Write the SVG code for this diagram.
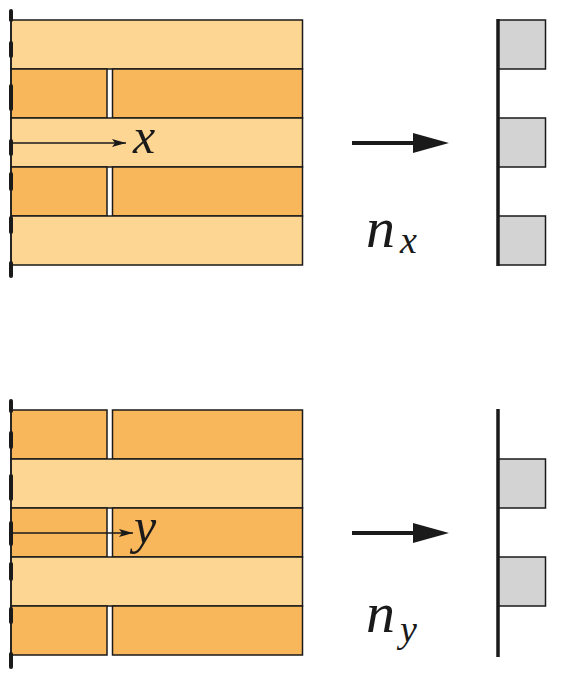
<svg xmlns="http://www.w3.org/2000/svg" width="563" height="675" viewBox="0 0 563 675">
<style>
.light{fill:#FED693;stroke:#1a1a1a;stroke-width:1.5}
.dark{fill:#F9B75C;stroke:#1a1a1a;stroke-width:1.5}
.cell{fill:#D3D3D3;stroke:#1a1a1a;stroke-width:1.5}
.wall{stroke:#1a1a1a;stroke-width:1.5;fill:none}
.wd{stroke:#1a1a1a;stroke-width:4;stroke-linecap:round}
.bar{stroke:#1a1a1a;stroke-width:3.5}
.thin{stroke:#1a1a1a;stroke-width:1.5;fill:none}
.big{stroke:#1a1a1a;stroke-width:4;fill:none}
.head{fill:#1a1a1a}
.m{font-family:"Liberation Serif",serif;font-style:italic;fill:#1a1a1a}
</style>
<defs>
<marker id="ah" viewBox="0 0 14 10" refX="14" refY="5" markerWidth="14" markerHeight="10" markerUnits="userSpaceOnUse" orient="auto">
<path d="M0,1 L14,5 L0,9 L3,5 Z" fill="#1a1a1a"/>
</marker>
</defs>

<g id="panel-x">
<rect class="light" x="11" y="20" width="291.5" height="49"/>
<rect class="dark" x="11" y="69" width="96" height="49"/>
<rect class="dark" x="112.5" y="69" width="190" height="49"/>
<rect class="light" x="11" y="118" width="291.5" height="49"/>
<rect class="dark" x="11" y="167" width="96" height="49"/>
<rect class="dark" x="112.5" y="167" width="190" height="49"/>
<rect class="light" x="11" y="216" width="291.5" height="49"/>
<line class="wall" x1="11" y1="10" x2="11" y2="277"/>
<g class="wd">
<line x1="11" y1="11" x2="11" y2="20"/><line x1="11" y1="43" x2="11" y2="56"/><line x1="11" y1="86" x2="11" y2="109"/>
<line x1="11" y1="141" x2="11" y2="154"/><line x1="11" y1="174" x2="11" y2="189"/><line x1="11" y1="218" x2="11" y2="232"/><line x1="11" y1="263" x2="11" y2="276"/>
</g>
</g>

<g id="panel-y">
<rect class="dark" x="11" y="410" width="96" height="49"/>
<rect class="dark" x="112.5" y="410" width="190" height="49"/>
<rect class="light" x="11" y="459" width="291.5" height="49"/>
<rect class="dark" x="11" y="508" width="96" height="49"/>
<rect class="dark" x="112.5" y="508" width="190" height="49"/>
<rect class="light" x="11" y="557" width="291.5" height="49"/>
<rect class="dark" x="11" y="606" width="96" height="49"/>
<rect class="dark" x="112.5" y="606" width="190" height="49"/>
<line class="wall" x1="11" y1="400" x2="11" y2="668"/>
<g class="wd">
<line x1="11" y1="401" x2="11" y2="411"/><line x1="11" y1="433" x2="11" y2="447"/><line x1="11" y1="476" x2="11" y2="499"/>
<line x1="11" y1="523" x2="11" y2="544"/><line x1="11" y1="564" x2="11" y2="579"/><line x1="11" y1="609" x2="11" y2="622"/><line x1="11" y1="654" x2="11" y2="667"/>
</g>
</g>

<g id="result-x">
<rect class="cell" x="498" y="20" width="47.5" height="49"/>
<rect class="cell" x="498" y="118" width="47.5" height="49"/>
<rect class="cell" x="498" y="216" width="47.5" height="49"/>
<line class="bar" x1="498" y1="19" x2="498" y2="266"/>
</g>

<g id="result-y">
<rect class="cell" x="498" y="459" width="47.5" height="49"/>
<rect class="cell" x="498" y="557" width="47.5" height="49"/>
<line class="bar" x1="498" y1="409" x2="498" y2="657"/>
</g>

<g id="connectors">
<line class="thin" x1="11" y1="143" x2="126" y2="143" marker-end="url(#ah)"/>
<line class="thin" x1="11" y1="533" x2="133" y2="533" marker-end="url(#ah)"/>
<line class="big" x1="352" y1="143" x2="420" y2="143"/>
<path class="head" d="M413,133 L449,143 L413,153 Z"/>
<line class="big" x1="352" y1="533" x2="420" y2="533"/>
<path class="head" d="M413,523 L449,533 L413,543 Z"/>
</g>

<g id="labels">
<text class="m" x="133" y="153" font-size="50">x</text>
<text class="m" x="134" y="543" font-size="50">y</text>
<text class="m" x="366" y="247" font-size="58">n</text>
<text class="m" x="400" y="253" font-size="38">x</text>
<text class="m" x="366" y="632" font-size="58">n</text>
<text class="m" x="400" y="642" font-size="38">y</text>
</g>
</svg>
